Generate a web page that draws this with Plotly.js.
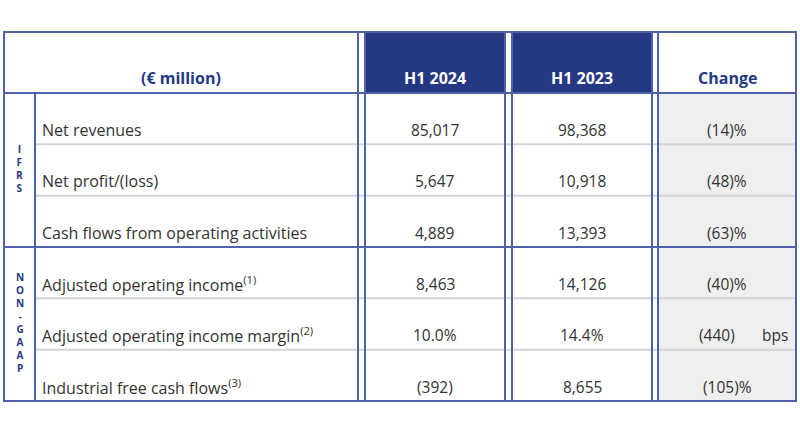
<!DOCTYPE html>
<html>
<head>
<meta charset="utf-8">
<script src="https://cdn.plot.ly/plotly-3.0.1.min.js"></script>
<style>html,body{margin:0;padding:0;background:#fff;}#chart{width:800px;height:427px;}</style>
</head>
<body>
<div id="chart"></div>
<script>
// ---- data ----
const headerLabel = "(€ million)";
const periods = ["H1 2024", "H1 2023"];
const changeLabel = "Change";
const sections = ["IFRS", "NON-GAAP"];
const sectionRows = [3, 3];
const rowLabels = [
  "Net revenues",
  "Net profit/(loss)",
  "Cash flows from operating activities",
  "Adjusted operating income<sup>(1)</sup>",
  "Adjusted operating income margin<sup>(2)</sup>",
  "Industrial free cash flows<sup>(3)</sup>"
];
const h1_2024 = ["85,017", "5,647", "4,889", "8,463", "10.0%", "(392)"];
const h1_2023 = ["98,368", "10,918", "13,393", "14,126", "14.4%", "8,655"];
const change = ["(14)%", "(48)%", "(63)%", "(40)%", "(440)", "(105)%"];
const changeUnit = ["", "", "", "", "bps", ""];

// ---- style / geometry ----
const NAVY = "#243883";
const LINE = "#4f62a9";
const GRAY = "#d4d4d4";
const TXT = "#333333";
const FONT = "Open Sans, sans-serif";
const L = 4, R = 796, T = 32, B = 401;
const HB = 93;              // header bottom
const secX = 35;            // section column edge
const rowH = (B - HB) / rowLabels.length;
const colEdges = [[358, 365], [505, 512], [652, 658]];
const colCenters = [435, 582, 727];

const shapes = [];
const ann = [];
function rect(x0, y0, x1, y1, fill) {
  shapes.push({type: "rect", xref: "x", yref: "y", x0, y0, x1, y1, fillcolor: fill, line: {width: 0}, layer: "below"});
}
function line(x0, y0, x1, y1, color, w) {
  shapes.push({type: "line", xref: "x", yref: "y", x0, y0, x1, y1, line: {color, width: w}});
}

// fills
rect(colEdges[0][1] + 1, T + 1, colEdges[1][0] - 1, HB - 1, NAVY);
rect(colEdges[1][1] + 1, T + 1, colEdges[2][0] - 1, HB - 1, NAVY);
rect(colEdges[2][1] + 1, HB + 1, R - 1, B - 1, "#efefef");

// gray row separators
let boundaries = [];
let acc = 0;
sectionRows.forEach(n => { acc += n; boundaries.push(acc); });
for (let i = 1; i < rowLabels.length; i++) {
  const y = HB + i * rowH;
  if (boundaries.includes(i)) continue;
  line(secX, y, R, y, GRAY, 2);
}
// blue lines
line(L, HB, R, HB, LINE, 2);
boundaries.slice(0, -1).forEach(b => { const y = HB + b * rowH; line(L, y, R, y, LINE, 2); });
colEdges.forEach(p => p.forEach(x => line(x, T, x, B, LINE, 2)));
line(secX, HB, secX, B, LINE, 2);
shapes.push({type: "rect", xref: "x", yref: "y", x0: L, y0: T, x1: R, y1: B, line: {color: LINE, width: 2}});

// header text
const hy = 78;
ann.push({x: 181, y: hy, text: "<b>" + headerLabel + "</b>", font: {family: FONT, size: 16, color: NAVY}});
periods.forEach((p, i) => ann.push({x: colCenters[i], y: hy, text: "<b>" + p + "</b>", font: {family: FONT, size: 16, color: "#ffffff"}}));
ann.push({x: colCenters[2], y: hy, text: "<b>" + changeLabel + "</b>", font: {family: FONT, size: 16, color: NAVY}});

// rows
rowLabels.forEach((lab, i) => {
  const y = HB + i * rowH + 37;
  ann.push({x: 40, y, text: lab, xanchor: "left", font: {family: FONT, size: 16, color: TXT}});
  ann.push({x: colCenters[0], y, text: h1_2024[i], font: {family: FONT, size: 15.5, color: TXT}});
  ann.push({x: colCenters[1], y, text: h1_2023[i], font: {family: FONT, size: 15.5, color: TXT}});
  if (changeUnit[i]) {
    ann.push({x: 717, y, text: change[i], font: {family: FONT, size: 15.5, color: TXT}});
    ann.push({x: 775, y, text: changeUnit[i], font: {family: FONT, size: 15.5, color: TXT}});
  } else {
    ann.push({x: colCenters[2], y, text: change[i], font: {family: FONT, size: 15.5, color: TXT}});
  }
});

// vertical section labels (stacked letters)
let start = 0;
sections.forEach((s, k) => {
  const top = HB + start * rowH, bot = HB + (start + sectionRows[k]) * rowH;
  const mid = (top + bot) / 2 - 2;
  ann.push({x: 19.5, y: mid, text: "<b>" + s.split("").join("<br>") + "</b>", font: {family: FONT, size: 10, color: NAVY}});
  start += sectionRows[k];
});

ann.forEach(a => { a.xref = "x"; a.yref = "y"; a.showarrow = false; if (!a.xanchor) a.xanchor = "center"; a.yanchor = "middle"; });

const layout = {
  width: 800, height: 427,
  margin: {l: 0, r: 0, t: 0, b: 0},
  paper_bgcolor: "#ffffff", plot_bgcolor: "#ffffff",
  xaxis: {range: [0, 800], visible: false, fixedrange: true},
  yaxis: {range: [427, 0], visible: false, fixedrange: true},
  shapes, annotations: ann, showlegend: false
};
Plotly.newPlot("chart", [], layout, {displayModeBar: false, staticPlot: true});
</script>
</body>
</html>
